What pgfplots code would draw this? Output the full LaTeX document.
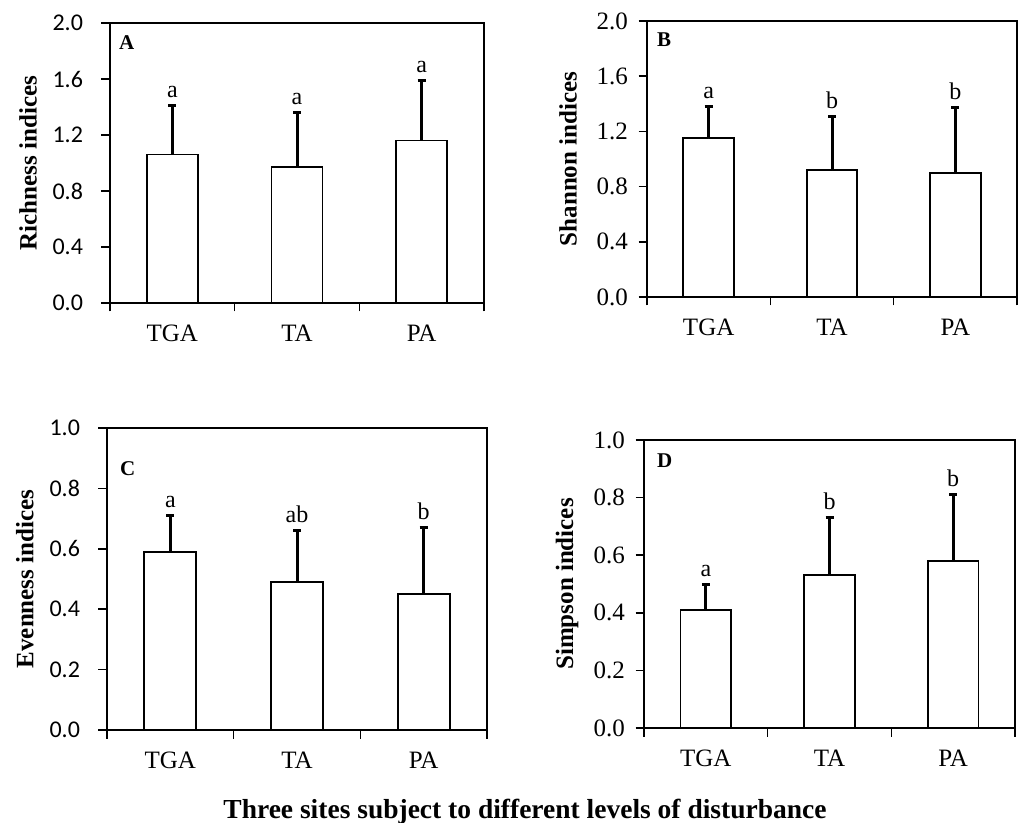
\documentclass[border=0pt]{standalone}
\usepackage{fontspec}
\setmainfont{Liberation Serif}
\newfontfamily\calib{Carlito}
\usepackage{pgfplots}
\usepackage{pgfplotstable}
\pgfplotsset{compat=1.18}

% mean and upper error for each site (TGA, TA, PA)
\pgfplotstableread{
x y e
0 1.06 0.35
1 0.97 0.39
2 1.16 0.43
}\richness
\pgfplotstableread{
x y e
0 1.15 0.23
1 0.92 0.39
2 0.90 0.47
}\shannon
\pgfplotstableread{
x y e
0 0.59 0.12
1 0.49 0.17
2 0.45 0.22
}\evenness
\pgfplotstableread{
x y e
0 0.41 0.09
1 0.53 0.20
2 0.58 0.23
}\simpson

\newcommand\lab{\fontsize{24}{26}\selectfont}

\pgfplotsset{
  panel/.style={
    scale only axis,
    ybar, bar width=0.41, bar shift=0pt,
    xmin=-0.5, xmax=2.5, ymin=0,
    xtick={-0.5,0.5,1.5,2.5},
    x tick label as interval,
    xticklabels={TGA,TA,PA},
    tick align=outside, tick pos=left,
    major tick length=8.5pt,
    axis line style={line width=1.5pt},
    tick style={black, line width=1.5pt},
    xticklabel style={font=\fontsize{25}{28}\selectfont, yshift=-10pt},
    /pgf/number format/fixed,
    /pgf/number format/fixed zerofill,
    /pgf/number format/precision=1,
    /pgf/number format/assume math mode=true,
    ylabel style={font=\bfseries\fontsize{25}{28}\selectfont, anchor=center},
  },
  sansticks/.style={yticklabel style={font=\calib\fontsize{24}{26}\selectfont, xshift=-15pt}},
  serifticks/.style={yticklabel style={font=\fontsize{25}{28}\selectfont, xshift=-7pt}},
  barplot/.style={draw=black, fill=white, line width=1.8pt,
    error bars/.cd, y dir=plus, y explicit,
    error bar style={line width=3pt},
    error mark options={rotate=90, mark size=4pt, line width=3pt}},
}

\begin{document}
\begin{tikzpicture}
\path[use as bounding box] (0,0) rectangle (1035pt,822pt);

% A
\begin{axis}[panel, sansticks, at={(110pt,519pt)}, anchor=south west,
    width=374pt, height=280pt, ymax=2.0, ytick={0,0.4,0.8,1.2,1.6,2.0},
    ylabel={Richness indices},
    ylabel style={at={(axis description cs:-0.219,0.5)}}]
\addplot[barplot] table[x=x, y=y, y error=e] {\richness};
\node[anchor=base, yshift=8pt] at (axis cs:0,1.41) {\lab a};
\node[anchor=base, yshift=8pt] at (axis cs:1,1.36) {\lab a};
\node[anchor=base, yshift=8pt] at (axis cs:2,1.59) {\lab a};
\node[anchor=base west, inner sep=0pt, xshift=9pt, yshift=-27pt]
    at (rel axis cs:0,1) {\bfseries\fontsize{21}{23}\selectfont A};
\end{axis}

% B
\begin{axis}[panel, serifticks, at={(647pt,525pt)}, anchor=south west,
    width=370pt, height=276pt, ymax=2.0, ytick={0,0.4,0.8,1.2,1.6,2.0},
    ylabel={Shannon indices},
    ylabel style={at={(axis description cs:-0.2135,0.5)}}]
\addplot[barplot] table[x=x, y=y, y error=e] {\shannon};
\node[anchor=base, yshift=8pt] at (axis cs:0,1.38) {\lab a};
\node[anchor=base, yshift=8pt] at (axis cs:1,1.31) {\lab b};
\node[anchor=base, yshift=8pt] at (axis cs:2,1.37) {\lab b};
\node[anchor=base west, inner sep=0pt, xshift=10pt, yshift=-26pt]
    at (rel axis cs:0,1) {\bfseries\fontsize{21}{23}\selectfont B};
\end{axis}

% C
\begin{axis}[panel, sansticks, at={(107pt,92pt)}, anchor=south west,
    width=380pt, height=302pt, ymax=1.0, ytick={0,0.2,0.4,0.6,0.8,1.0},
    ylabel={Evenness indices},
    ylabel style={at={(axis description cs:-0.216,0.5)}}]
\addplot[barplot] table[x=x, y=y, y error=e] {\evenness};
\node[anchor=base, yshift=8pt] at (axis cs:0,0.71) {\lab a};
\node[anchor=base, yshift=8pt] at (axis cs:1,0.66) {\lab ab};
\node[anchor=base, yshift=8pt] at (axis cs:2,0.67) {\lab b};
\node[anchor=base west, inner sep=0pt, xshift=13pt, yshift=-48pt]
    at (rel axis cs:0,1) {\bfseries\fontsize{21}{23}\selectfont C};
\end{axis}

% D
\begin{axis}[panel, serifticks, at={(644pt,94pt)}, anchor=south west,
    width=371pt, height=288pt, ymax=1.0, ytick={0,0.2,0.4,0.6,0.8,1.0},
    ylabel={Simpson indices},
    ylabel style={at={(axis description cs:-0.2075,0.5)}}]
\addplot[barplot] table[x=x, y=y, y error=e] {\simpson};
\node[anchor=base, yshift=8pt] at (axis cs:0,0.50) {\lab a};
\node[anchor=base, yshift=8pt] at (axis cs:1,0.73) {\lab b};
\node[anchor=base, yshift=8pt] at (axis cs:2,0.81) {\lab b};
\node[anchor=base west, inner sep=0pt, xshift=13pt, yshift=-27pt]
    at (rel axis cs:0,1) {\bfseries\fontsize{21}{23}\selectfont D};
\end{axis}

\node[anchor=base, font=\bfseries\fontsize{27.5}{30}\selectfont]
    at (525pt,4pt) {Three sites subject to different levels of disturbance};
\end{tikzpicture}
\end{document}
